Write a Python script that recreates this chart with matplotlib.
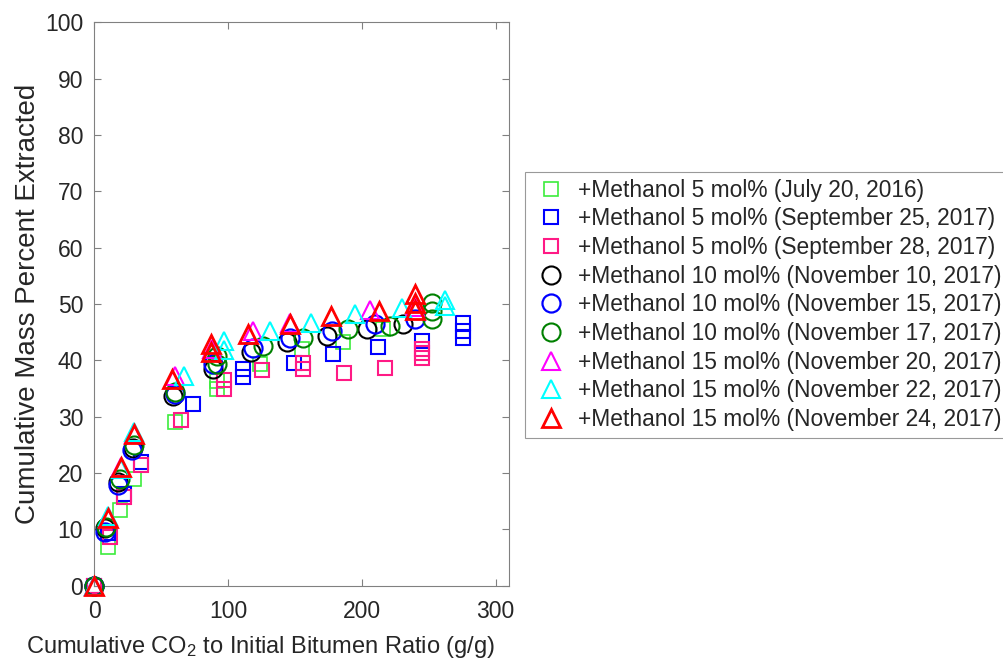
import numpy as np
import matplotlib.pyplot as plt

plt.rcParams['font.family'] = ['Liberation Sans', 'DejaVu Sans']
plt.rcParams['mathtext.default'] = 'regular'

# data (x = CO2/bitumen g/g, y = mass % extracted)
jul20_x = [0, 10.3, 19.5, 30, 60, 92, 92, 123.5, 155, 186, 216]
jul20_y = [0, 6.9, 13.4, 19, 29, 35, 36.4, 39.3, 42, 43.2, 45.5]

sep25_x = [0, 10, 22.5, 35, 74, 111, 111, 149.4, 178.7, 212, 245, 275.7, 275.7, 275.7]
sep25_y = [0, 9.3, 16.3, 22, 32.2, 37, 38.5, 39.6, 41.1, 42.3, 43.5, 44, 45.2, 46.7]

sep28_x = [0, 11.5, 22, 34.6, 65, 97, 97, 125, 156, 156, 187, 217, 245, 245, 245]
sep28_y = [0, 8.7, 15.8, 21.4, 29.5, 35, 36.5, 38.2, 38.5, 39.6, 37.7, 38.7, 40.5, 41.3, 42.1]

nov10_x = [0, 8.3, 18, 29, 59, 88.5, 117, 144, 173.7, 204, 231]
nov10_y = [0, 10.2, 18.4, 24.5, 33.7, 38.5, 41.4, 43.2, 44.3, 45.5, 46.4]

nov15_x = [0, 8.3, 17.5, 28.3, 60, 88.5, 118.5, 146, 177.4, 210, 240]
nov15_y = [0, 9.6, 17.8, 24, 34, 39.4, 42.2, 44, 45.2, 46.4, 47.3]

nov17_x = [0, 9, 19.5, 30, 60, 92, 92, 126, 156, 190, 221, 252.6, 252.6, 252.6]
nov17_y = [0, 10.5, 19, 25, 34.3, 39.4, 40.8, 42.6, 44, 45.5, 46.1, 47.3, 48.8, 50.2]

nov20_x = [0, 10, 20, 29.5, 60, 88, 119, 146, 206, 240]
nov20_y = [0, 12, 21, 27, 37.3, 42, 45.2, 46.6, 49, 49.5]

nov22_x = [0, 10, 20, 30, 67, 97, 97, 131, 162, 195, 230, 262, 262]
nov22_y = [0, 12.3, 20.8, 27.3, 37.3, 41.8, 43.5, 45.2, 46.7, 48.2, 49.3, 49.6, 50.8]

nov24_x = [0, 10, 20, 29.5, 58.4, 87, 87, 115, 146, 177, 212.5, 240, 240, 240]
nov24_y = [0, 12, 21, 27, 36.7, 41.4, 42.9, 44.6, 46.4, 47.9, 48.8, 49, 50.2, 51.7]

labels = ['+Methanol 5 mol% (July 20, 2016)',
          '+Methanol 5 mol% (September 25, 2017)',
          '+Methanol 5 mol% (September 28, 2017)',
          '+Methanol 10 mol% (November 10, 2017)',
          '+Methanol 10 mol% (November 15, 2017)',
          '+Methanol 10 mol% (November 17, 2017)',
          '+Methanol 15 mol% (November 20, 2017)',
          '+Methanol 15 mol% (November 22, 2017)',
          '+Methanol 15 mol% (November 24, 2017)']

series = [(jul20_x, jul20_y, 's', '#3cec3c', 10, 1.2),
          (sep25_x, sep25_y, 's', '#0000ff', 10, 1.5),
          (sep28_x, sep28_y, 's', '#ff1a85', 10, 1.5),
          (nov10_x, nov10_y, 'o', '#000000', 13, 1.5),
          (nov15_x, nov15_y, 'o', '#0000ff', 13, 1.6),
          (nov17_x, nov17_y, 'o', '#008000', 13, 1.5),
          (nov20_x, nov20_y, '^', '#ff00ff', 13.5, 1.5),
          (nov22_x, nov22_y, '^', '#00ffff', 13.5, 1.5),
          (nov24_x, nov24_y, '^', '#ff0000', 13.5, 2.0)]

fig = plt.figure(figsize=(10.04, 6.64), dpi=100)
ax = fig.add_axes([0.0939, 0.1179, 0.4131, 0.8485])

handles = []
for (xs, ys, m, c, ms, lw), lab in zip(series, labels):
    h, = ax.plot(xs, ys, linestyle='none', marker=m, markersize=ms,
                 markerfacecolor='none', markeredgecolor=c, markeredgewidth=lw,
                 label=lab, clip_on=False, zorder=3)
    handles.append(h)

ax.set_xlim(0, 310)
ax.set_ylim(0, 100)
ax.set_xticks([0, 100, 200, 300])
ax.set_yticks(np.arange(0, 101, 10))
ax.tick_params(direction='in', length=5, width=0.8, colors='#808080',
               labelcolor='#262626', labelsize=16.5, top=True, right=True)
ax.tick_params(axis='x', pad=10)
ax.tick_params(axis='y', pad=8)
for s in ax.spines.values():
    s.set_color('#808080')
    s.set_linewidth(0.8)

ax.set_xlabel('Cumulative CO$_2$ to Initial Bitumen Ratio (g/g)', fontsize=17,
              color='#262626', labelpad=6)
ax.xaxis.set_label_coords(0.40, -0.085)
ax.set_ylabel('Cumulative Mass Percent Extracted', fontsize=20,
              color='#262626', labelpad=3)

leg = fig.legend(handles=handles, loc='upper left',
                 bbox_to_anchor=(0.5229, 0.7414), borderaxespad=0,
                 fontsize=16.4, frameon=True, fancybox=False,
                 edgecolor='#808080', handletextpad=0.35,
                 labelspacing=0.25, borderpad=0.3, handlelength=1.68,
                 labelcolor='#262626')
leg.get_frame().set_linewidth(0.8)

fig.savefig('out.png', dpi=100)
